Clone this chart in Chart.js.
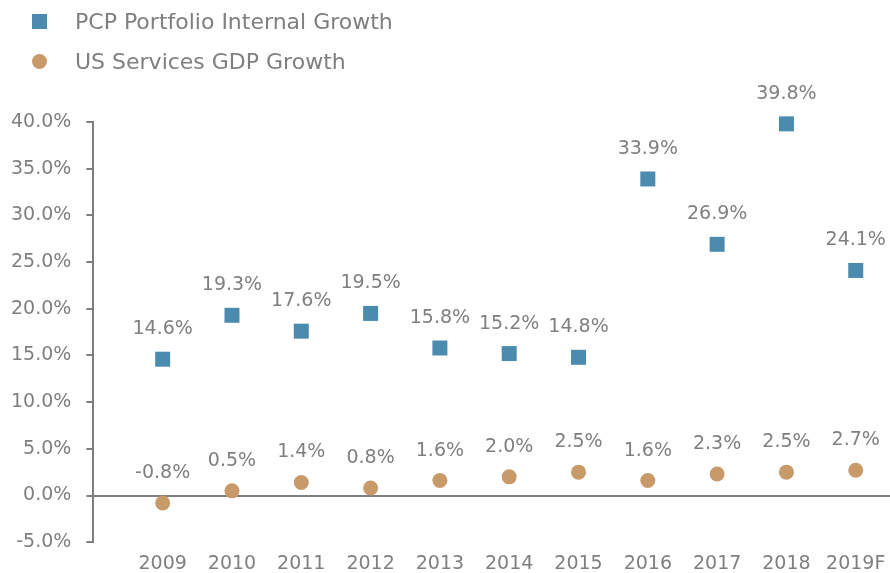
<!DOCTYPE html>
<html>
<head>
<meta charset="utf-8">
<script src="https://cdn.jsdelivr.net/npm/chart.js@4/dist/chart.umd.min.js"></script>
<style>
  html, body { margin: 0; padding: 0; background: #fff; overflow: hidden; }
  #wrap { position: relative; width: 890px; height: 573px; overflow: hidden; }
  #c { position: absolute; left: -8px; top: 0; }
  #legend { position: absolute; left: 32px; top: 1px; font-family: "DejaVu Sans", sans-serif; font-size: 22px; color: #7f7f7f; }
  #legend div { height: 40px; display: flex; align-items: center; }
  #legend span.mk { display: inline-block; width: 15px; height: 15px; margin-right: 28px; }
</style>
</head>
<body>
<div id="wrap">
  <canvas id="c" width="909" height="577"></canvas>
  <div id="legend">
    <div><span class="mk" style="background:#4a8bae"></span>PCP Portfolio Internal Growth</div>
    <div><span class="mk" style="background:#c99a69;border-radius:50%"></span>US Services GDP Growth</div>
  </div>
</div>
<script>
// ── data ──────────────────────────────────────────
const YEARS = ["2009", "2010", "2011", "2012", "2013", "2014", "2015", "2016", "2017", "2018", "2019F"];
const PCP_GROWTH = [14.6, 19.3, 17.6, 19.5, 15.8, 15.2, 14.8, 33.9, 26.9, 39.8, 24.1];
const GDP_GROWTH = [-0.8, 0.5, 1.4, 0.8, 1.6, 2.0, 2.5, 1.6, 2.3, 2.5, 2.7];

const GRAY = "#7f7f7f";
const FONT = "'DejaVu Sans', sans-serif";

// years sit at x = 1..11 on a linear axis running 0..11.5 (one empty slot left of 2009)
const toPoints = (arr) => arr.map((v, i) => ({ x: i + 1, y: v }));

// value labels above each point
const valueLabels = {
  id: "valueLabels",
  afterDatasetsDraw(chart) {
    const ctx = chart.ctx;
    ctx.save();
    ctx.font = "19px " + FONT;
    ctx.fillStyle = GRAY;
    ctx.textAlign = "center";
    ctx.textBaseline = "middle";
    chart.data.datasets.forEach((ds, i) => {
      chart.getDatasetMeta(i).data.forEach((pt, j) => {
        ctx.fillText(ds.data[j].y.toFixed(1) + "%", pt.x, pt.y - 30);
      });
    });
    ctx.restore();
  },
};

new Chart(document.getElementById("c"), {
  type: "scatter",
  data: {
    datasets: [
      {
        label: "PCP Portfolio Internal Growth",
        data: toPoints(PCP_GROWTH),
        clip: false,
        pointStyle: "rect",
        pointRadius: 10.6,
        pointBackgroundColor: "#4a8bae",
        pointBorderColor: "#4a8bae",
        pointBorderWidth: 0,
      },
      {
        label: "US Services GDP Growth",
        data: toPoints(GDP_GROWTH),
        clip: false,
        pointStyle: "circle",
        pointRadius: 7.5,
        pointBackgroundColor: "#c99a69",
        pointBorderColor: "#c99a69",
        pointBorderWidth: 0,
      },
    ],
  },
  options: {
    responsive: false,
    animation: false,
    layout: { padding: { top: 122, right: 0, left: 4, bottom: 0 } },
    plugins: { legend: { display: false }, tooltip: { enabled: false } },
    scales: {
      x: {
        type: "linear",
        min: 0,
        max: 11.5,
        afterBuildTicks: (scale) => {
          scale.ticks = YEARS.map((_, i) => ({ value: i + 1 }));
        },
        grid: { display: false },
        border: { display: false },
        ticks: {
          color: GRAY,
          font: { family: FONT, size: 19 },
          padding: 2,
          autoSkip: false,
          maxRotation: 0,
          callback: (v) => YEARS[v - 1] ?? "",
        },
      },
      y: {
        min: -5,
        max: 40,
        ticks: {
          stepSize: 5,
          color: GRAY,
          font: { family: FONT, size: 19 },
          padding: 15,
          callback: (v) => v.toFixed(1) + "%",
        },
        grid: {
          drawOnChartArea: true,
          color: (c) => (c.tick && c.tick.value === 0 ? GRAY : "rgba(0,0,0,0)"),
          lineWidth: 2,
          tickLength: 7,
          tickColor: GRAY,
        },
        border: { display: true, color: GRAY, width: 2 },
      },
    },
  },
  plugins: [valueLabels],
});
</script>
</body>
</html>
